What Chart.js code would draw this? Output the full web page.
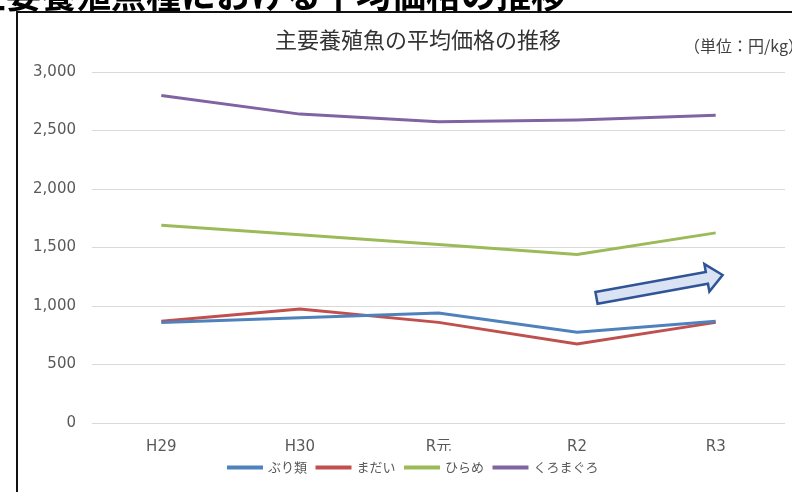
<!DOCTYPE html>
<html lang="ja">
<head>
	<meta charset="UTF-8">
	<title>主要養殖魚の平均価格の推移</title>
	<style>
		body { margin: 0; background: #fff; overflow: hidden; }
		#wrap { position: relative; width: 792px; height: 492px; }
		#frame {
			position: absolute; left: 16px; top: 11px;
			width: 800px; height: 500px;
			border: 2px solid #111; pointer-events: none;
		}
	</style>
</head>
<body>
	<div id="wrap">
		<canvas id="priceChart" width="792" height="492"></canvas>
		<div id="frame"></div>
	</div>

	<script src="https://cdn.jsdelivr.net/npm/chart.js"></script>
	<script>
		// データ（単位：円/kg）
		const categories = ['H29', 'H30', 'R元', 'R2', 'R3'];
		const buri = [860, 900, 940, 775, 870];          // ぶり類
		const madai = [870, 975, 860, 675, 860];         // まだい
		const hirame = [1690, 1610, 1525, 1440, 1625];   // ひらめ
		const kuromaguro = [2800, 2640, 2575, 2590, 2630]; // くろまぐろ
		const yTicks = [0, 500, 1000, 1500, 2000, 2500, 3000];

		const jpFont = "'Noto Sans CJK JP', 'Noto Sans', sans-serif";
		const numFont = "'DejaVu Sans', 'Noto Sans CJK JP', sans-serif";

		// 見出し・タイトル・矢印
		const decor = {
			id: 'decor',
			beforeDraw(chart) {
				const c = chart.ctx;
				c.save();
				c.fillStyle = '#fff';
				c.fillRect(0, 0, chart.width, chart.height);
				c.restore();
			},
			afterLayout(chart) {
				// 凡例を少し右へ（元図ではプロット領域の中央寄り）
				const lg = chart.legend;
				if (lg) { lg.left += 21; lg.right += 21; }
			},
			afterDatasetsDraw(chart) {
				const c = chart.ctx;
				const xs = chart.scales.x, ys = chart.scales.y;
				// 右上がりの矢印
				const x0 = xs.getPixelForValue(3.14), y0 = ys.getPixelForValue(1070);
				const x1 = xs.getPixelForValue(4.05), y1 = ys.getPixelForValue(1265);
				const ang = Math.atan2(y1 - y0, x1 - x0);
				const len = Math.hypot(x1 - x0, y1 - y0);
				c.save();
				c.translate(x0, y0);
				c.rotate(ang);
				c.beginPath();
				c.moveTo(0, -6);
				c.lineTo(len - 16, -6);
				c.lineTo(len - 16, -14);
				c.lineTo(len, 0);
				c.lineTo(len - 16, 14);
				c.lineTo(len - 16, 6);
				c.lineTo(0, 6);
				c.closePath();
				c.fillStyle = '#DAE3F3';
				c.fill();
				c.lineWidth = 2.5;
				c.strokeStyle = '#2F5597';
				c.lineJoin = 'miter';
				c.stroke();
				c.restore();
			},
			afterDraw(chart) {
				const c = chart.ctx;
				c.save();
				c.fillStyle = '#000';
				c.font = 'bold 35px ' + jpFont;
				c.textAlign = 'right';
				c.textBaseline = 'alphabetic';
				c.fillText('主要養殖魚種における平均価格の推移', 566, 8);

				c.fillStyle = '#333';
				c.font = '22px ' + jpFont;
				c.textAlign = 'center';
				c.textBaseline = 'middle';
				c.fillText('主要養殖魚の平均価格の推移', 418, 40);

				c.fillStyle = '#404040';
				c.font = '16px ' + jpFont;
				c.textAlign = 'left';
				c.fillText('（単位：円/kg）', 684, 46);
				c.restore();
			}
		};

		const ctx = document.getElementById('priceChart').getContext('2d');
		const priceChart = new Chart(ctx, {
			type: 'line',
			data: {
				labels: categories,
				datasets: [
					{ label: 'ぶり類', data: buri, borderColor: '#4F81BD', backgroundColor: '#4F81BD' },
					{ label: 'まだい', data: madai, borderColor: '#C0504D', backgroundColor: '#C0504D' },
					{ label: 'ひらめ', data: hirame, borderColor: '#9BBB59', backgroundColor: '#9BBB59' },
					{ label: 'くろまぐろ', data: kuromaguro, borderColor: '#8064A2', backgroundColor: '#8064A2' }
				]
			},
			options: {
				responsive: false,
				animation: false,
				elements: {
					line: { borderWidth: 3, tension: 0 },
					point: { radius: 0, hoverRadius: 0 }
				},
				layout: { padding: { left: 0, right: 7, top: 72, bottom: 8 } },
				scales: {
					x: {
						offset: true,
						grid: { display: false, offset: true },
						border: { display: false },
						ticks: { padding: 7, color: '#595959', font: { family: numFont, size: 15 } },
						afterFit(scale) { scale.height = 28; }
					},
					y: {
						min: 0,
						max: 3000,
						afterBuildTicks(scale) { scale.ticks = yTicks.map(v => ({ value: v })); },
						grid: { color: '#D9D9D9', drawTicks: false },
						border: { display: false },
						ticks: {
							padding: 16,
							color: '#595959',
							font: { family: numFont, size: 15 },
							callback: v => v.toLocaleString('en-US')
						},
						afterFit(scale) { scale.width = 92; }
					}
				},
				plugins: {
					legend: {
						position: 'bottom',
						labels: {
							boxWidth: 33,
							boxHeight: 1,
							padding: 10,
							color: '#595959',
							font: { family: jpFont, size: 13 }
						}
					},
					tooltip: { enabled: false }
				}
			},
			plugins: [decor]
		});
	</script>
</body>
</html>
